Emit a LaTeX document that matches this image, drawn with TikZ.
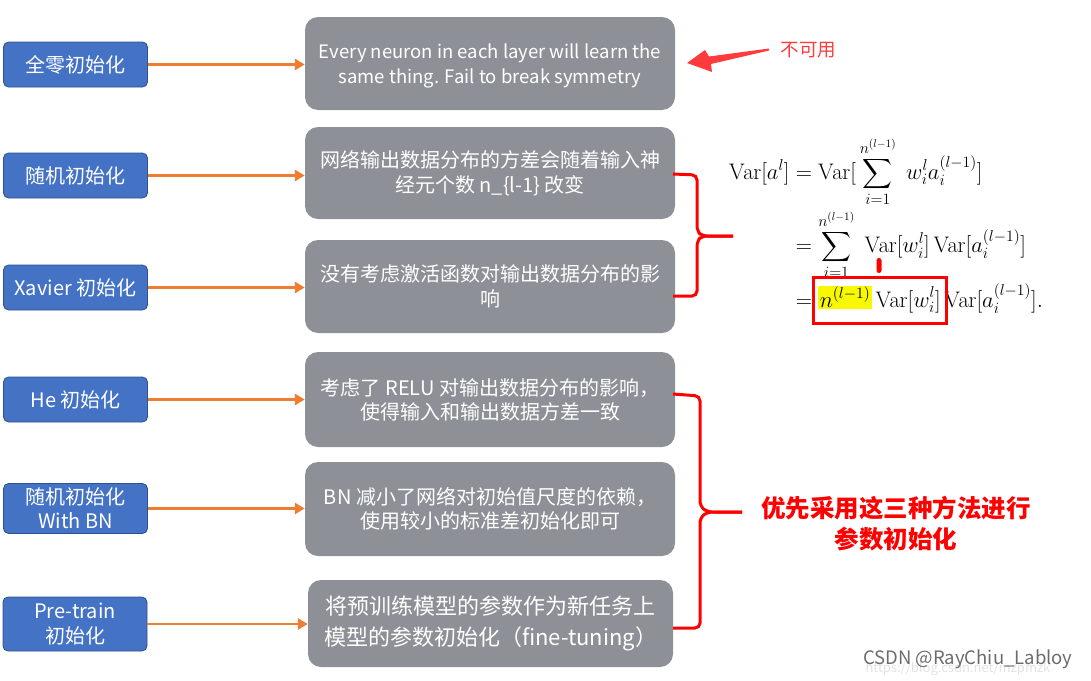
\RequirePackage{fix-cm}
\documentclass[tikz,border=0pt]{standalone}
\usepackage{amsmath}
\usepackage[no-math]{fontspec}
\setmainfont{Noto Sans CJK SC}
\usetikzlibrary{arrows.meta}
\definecolor{bluebox}{HTML}{4472C4}
\definecolor{blueedge}{HTML}{2F528F}
\definecolor{graybox}{HTML}{8E9097}
\definecolor{orangearr}{HTML}{ED7D31}
\definecolor{redline}{HTML}{FF0000}
\definecolor{redarrow}{HTML}{FF3B3B}
\definecolor{hiyellow}{HTML}{F8F800}
\begin{document}
\begin{tikzpicture}[x=1pt,y=-1pt,
  bbox/.style={draw=blueedge, line width=0.8pt, fill=bluebox, rounded corners=5pt,
    minimum width=144pt, text=white, align=center, inner sep=0pt,
    font=\fontsize{20}{25}\selectfont},
  gbox/.style={fill=graybox, rounded corners=13pt, minimum width=370pt, text=white,
    align=center, inner sep=0pt, font=\fontsize{20}{25}\selectfont},
  oarr/.style={draw=orangearr, line width=2.8pt, -{Triangle[length=10pt,width=11pt]}},
  rbrace/.style={draw=redline, line width=3pt, rounded corners=5pt}
]
\useasboundingbox (0,0) rectangle (1091,680);

% left blue boxes
\node[bbox, minimum height=45pt] (b1) at (75.5,64.5) {全零初始化};
\node[bbox, minimum height=45pt] (b2) at (75.5,175.5) {随机初始化};
\node[bbox, minimum height=45pt] (b3) at (75.5,287.5) {Xavier 初始化};
\node[bbox, minimum height=45pt] (b4) at (75.5,399.5) {He 初始化};
\node[bbox, minimum height=50pt, font=\fontsize{20}{24}\selectfont] (b5) at (75.5,508.5) {随机初始化\\With BN};
\node[bbox, minimum height=54pt, font=\fontsize{20}{25}\selectfont] (b6) at (75,624) {Pre-train\\初始化};

% gray boxes
\node[gbox, minimum height=93pt, font=\fontsize{18.5}{25}\selectfont] (g1) at (490,63.5)
  {\rule{0pt}{20pt}Every neuron in each layer will learn the\\same thing. Fail to break symmetry};
\node[gbox, minimum height=92pt] (g2) at (490,173)
  {网络输出数据分布的方差会随着输入神\\经元个数 n\_\{l-1\} 改变};
\node[gbox, minimum height=93pt] (g3) at (490,286.5)
  {没有考虑激活函数对输出数据分布的影\\响};
\node[gbox, minimum height=95pt, font=\fontsize{20}{24}\selectfont] (g4) at (490,399.5)
  {考虑了 RELU 对输出数据分布的影响，\\使得输入和输出数据方差一致};
\node[gbox, minimum height=94pt, font=\fontsize{20}{24}\selectfont] (g5) at (490,509)
  {BN 减小了网络对初始值尺度的依赖，\\使用较小的标准差初始化即可};
\node[gbox, minimum height=87pt, minimum width=365pt, font=\fontsize{22}{31}\selectfont] (g6) at (490.5,623.5)
  {将预训练模型的参数作为新任务上\\模型的参数初始化（fine-tuning）};

% orange arrows
\draw[oarr] (b1.east) -- (b1.east -| g1.west);
\draw[oarr] (b2.east) -- (b2.east -| g2.west);
\draw[oarr] (b3.east) -- (b3.east -| g3.west);
\draw[oarr] (b4.east) -- (b4.east -| g4.west);
\draw[oarr] (b5.east) -- (b5.east -| g5.west);
\draw[oarr] (b6.east) -- (b6.east -| g6.west);

% red "not usable" arrow
\fill[redarrow] (769,48.5) -- (709,56.5) -- (705,50) -- (687,63) -- (712,72) -- (711,64) -- (769,50.5) -- cycle;
\node[text=redarrow, font=\fontsize{18.5}{22}\selectfont] (nu) at (808.5,50) {不可用};

% braces
\draw[rbrace] (673,174) -- (697,175) -- (697,231) -- (702,236) -- (733,236);
\draw[rbrace] (733,236) -- (702,236) -- (697,241) -- (697,296) -- (673,296);
\draw[rbrace] (673,394) -- (700,396) -- (700,506) -- (707,512) -- (742,512);
\draw[rbrace] (742,512) -- (707,512) -- (700,518) -- (700,628) -- (673,628);

% formula
\node[anchor=west, inner sep=0pt, font=\fontsize{22.5}{27}\selectfont] (f) at (729,226)
{\setlength{\fboxsep}{1.5pt}$\begin{aligned}
\mathrm{Var}[a^l] &= \mathrm{Var}[\,\sum_{i=1}^{n^{(l-1)}}\; w_i^l a_i^{(l-1)}]\\
&= \sum_{i=1}^{n^{(l-1)}}\; \mathrm{Var}[w_i^l]\,\mathrm{Var}[a_i^{(l-1)}]\\
&= \colorbox{hiyellow}{$n^{(l-1)}$}\,\mathrm{Var}[w_i^l]\,\mathrm{Var}[a_i^{(l-1)}].
\end{aligned}$};
\draw[redline, line width=3pt] (813,277) rectangle (946,323);
\fill[redline, rounded corners=2.5pt] (876.5,258) rectangle (881.5,273);

% red conclusion text
\node[text=redline, align=center, font=\fontsize{24.5}{31}\selectfont\bfseries] (concl) at (896,524)
  {优先采用这三种方法进行\\参数初始化};

% watermark
\node[text=gray!22, font=\fontsize{13}{14}\selectfont\rmfamily, anchor=west] (url) at (862,669) {https://blog.csdn.net/mzpmzk};
\node[text=gray!85!black, font=\fontsize{18.5}{20}\selectfont, anchor=east] (wm) at (1076,659) {CSDN @RayChiu\_Labloy};
\end{tikzpicture}
\end{document}
